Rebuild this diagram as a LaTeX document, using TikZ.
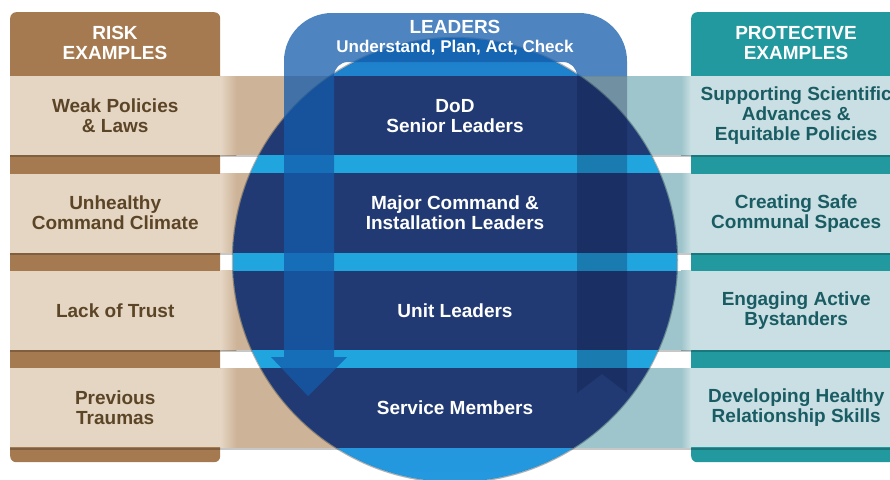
\documentclass[tikz,border=0pt]{standalone}
\usepackage{fontspec}
\setmainfont{Liberation Sans}
\usetikzlibrary{positioning}

\definecolor{riskbrown}{HTML}{A67A50}
\definecolor{riskpale}{HTML}{E5D6C4}
\definecolor{risktan}{HTML}{CDB398}
\definecolor{risktext}{HTML}{5C4527}
\definecolor{protteal}{HTML}{22999F}
\definecolor{protpale}{HTML}{C9DFE3}
\definecolor{protband}{HTML}{9EC5CB}
\definecolor{prottext}{HTML}{1A5C63}
\definecolor{navyrow}{HTML}{213A73}
\definecolor{skystripe}{HTML}{21A5DF}
\definecolor{globetop}{HTML}{1F80CB}
\definecolor{globebot}{HTML}{2499E0}
\definecolor{leaderblue}{HTML}{135CAB}
\definecolor{shaftdark}{HTML}{0A1A45}

\begin{document}
\begin{tikzpicture}[
  x=1pt, y=-1pt,
  font=\bfseries\fontsize{19}{20}\selectfont,
  node distance=18pt,
  column/.style={rounded corners=6pt, minimum width=210pt, minimum height=450pt, inner sep=0pt, anchor=north west},
  riskbox/.style={fill=riskpale, text=risktext, minimum width=210pt, minimum height=79pt, inner sep=0pt, align=center},
  protbox/.style={fill=protpale, text=prottext, minimum width=210pt, minimum height=79pt, inner sep=0pt, align=center},
  header/.style={text=white, align=center, inner sep=0pt},
  leaderrow/.style={text=white, align=center, inner sep=0pt},
  rowshadow/.style={black, opacity=.22},
  leaderarrow/.style={fill=leaderblue, fill opacity=.75},
  checkshaft/.style={fill=shaftdark, fill opacity=.3}
]
\useasboundingbox (0,0) rectangle (890,479);
\clip (0,0) rectangle (890,479);

% Side columns
\node[column, fill=riskbrown] (riskcol) at (10,12) {};
\node[column, fill=protteal] (protcol) at (691,12) {};

\node[header] (riskhead) at (115,43) {RISK\\EXAMPLES};
\node[header] (prothead) at (796,43) {PROTECTIVE\\EXAMPLES};

% Example rows (top to bottom)
\node[riskbox, below=64pt of riskcol.north] (risk1) {Weak Policies\\\& Laws};
\node[riskbox, below=of risk1] (risk2) {Unhealthy\\Command Climate};
\node[riskbox, below=of risk2] (risk3) {Lack of Trust};
\node[riskbox, below=of risk3] (risk4) {Previous\\Traumas};

\node[protbox, below=64pt of protcol.north] (prot1) {Supporting Scientific\\Advances \&\\Equitable Policies};
\node[protbox, below=of prot1] (prot2) {Creating Safe\\Communal Spaces};
\node[protbox, below=of prot2] (prot3) {Engaging Active\\Bystanders};
\node[protbox, below=of prot3] (prot4) {Developing Healthy\\Relationship Skills};

\coordinate (globe) at (455,260);

% Bands running in from both sides
\foreach \i in {1,...,4} {
  \fill[risktan] (risk\i.north east) rectangle (risk\i.south east -| globe);
  \shade[left color=riskpale, right color=risktan] (risk\i.north east) rectangle ([xshift=16pt]risk\i.south east);
  \fill[protband] (prot\i.north west) rectangle (prot\i.south west -| globe);
  \shade[left color=protband, right color=protpale] ([xshift=-10pt]prot\i.north west) rectangle (prot\i.south west);
  \fill[rowshadow] (risk\i.south west) rectangle ([yshift=-2pt]prot\i.south east);
}

% Globe with the leader rows
\shade[top color=globetop, bottom color=globebot] (globe) circle[radius=222];
\draw[black, opacity=.3, line width=1.2pt] (globe) circle[radius=222.6];

\begin{scope}
  \clip (globe) circle[radius=222];
  \foreach \i in {1,...,4}
    \fill[navyrow] (risk\i.north west) rectangle (prot\i.south east);
  \foreach \i/\j in {1/2,2/3,3/4}
    \fill[skystripe] (risk\i.south west) rectangle (prot\j.north east);
\end{scope}

% Leaders loop: over the top and down the left side
\path[leaderarrow] (308,396) -- (271,357) -- (284,357) -- (284,61)
  arc[start angle=180, end angle=270, radius=48] -- (579,13)
  arc[start angle=270, end angle=360, radius=48] -- (627,76) -- (577,76)
  arc[start angle=0, end angle=-90, radius=14] -- (348,62)
  arc[start angle=-90, end angle=-180, radius=14] -- (334,357) -- (347,357) -- cycle;

% Tail of the loop on the right side
\path[checkshaft] (577,76) -- (627,76) -- (627,393) -- (602,374) -- (577,393) -- cycle;

% Labels
\node[anchor=base, text=white] (leadtitle) at (455,33) {LEADERS};
\node[anchor=base, text=white, font=\bfseries\fontsize{17}{19}\selectfont] (leadsteps) at (455,52) {Understand, Plan, Act, Check};

\node[leaderrow] (dod) at (risk1 -| globe) {DoD\\Senior Leaders};
\node[leaderrow] (major) at (risk2 -| globe) {Major Command \&\\Installation Leaders};
\node[leaderrow] (unit) at (risk3 -| globe) {Unit Leaders};
\node[leaderrow] (members) at (risk4 -| globe) {Service Members};

\end{tikzpicture}
\end{document}
